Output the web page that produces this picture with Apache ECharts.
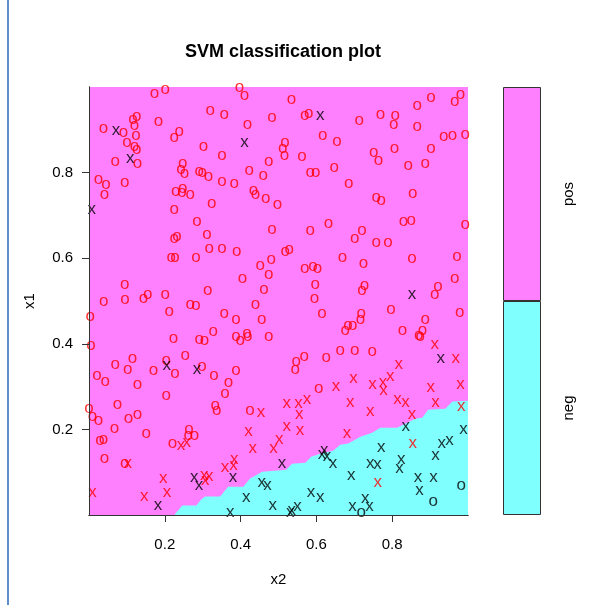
<!DOCTYPE html>
<html>
<head>
<meta charset="utf-8">
<script src="https://cdn.jsdelivr.net/npm/echarts@6/dist/echarts.min.js"></script>
<style>
  html, body { margin: 0; padding: 0; background: #ffffff; }
  #chart { width: 606px; height: 605px; }
</style>
</head>
<body>
<div id="chart"></div>
<script>
// Training points, [x2, x1]; "o" = ordinary point, "x" = support vector.
// Red = class "pos", black = class "neg".
const posPoints = [
  [0.173,0.983],[0.201,0.993],[0.320,0.943],[0.116,0.923],[0.126,0.929],[0.183,0.918],[0.120,0.908],[0.038,0.902],
  [0.091,0.892],[0.124,0.884],[0.238,0.894],[0.225,0.879],[0.100,0.869],[0.302,0.860],[0.120,0.859],[0.126,0.852],
  [0.069,0.823],[0.128,0.820],[0.247,0.820],[0.243,0.806],[0.252,0.797],[0.291,0.801],[0.299,0.799],[0.315,0.790],
  [0.025,0.781],[0.045,0.771],[0.094,0.775],[0.041,0.748],[0.247,0.762],[0.229,0.754],[0.245,0.752],[0.267,0.746],
  [0.225,0.711],[0.324,0.725],[0.285,0.684],
  [0.397,0.996],[0.410,0.978],[0.534,0.970],[0.357,0.935],[0.483,0.927],[0.569,0.931],[0.580,0.937],[0.418,0.910],
  [0.617,0.884],[0.654,0.871],[0.517,0.869],[0.511,0.855],[0.516,0.838],[0.562,0.835],[0.351,0.839],[0.474,0.823],
  [0.423,0.802],[0.460,0.792],[0.584,0.799],[0.598,0.799],[0.647,0.810],[0.351,0.777],[0.383,0.773],[0.434,0.757],
  [0.439,0.746],[0.466,0.738],[0.497,0.723],[0.632,0.680],
  [0.902,0.974],[0.980,0.980],[0.965,0.965],[0.866,0.954],[0.769,0.935],[0.808,0.931],[0.804,0.910],[0.713,0.919],
  [0.866,0.905],[0.936,0.882],[0.959,0.884],[0.993,0.886],[0.751,0.845],[0.764,0.826],[0.806,0.855],[0.902,0.855],
  [0.842,0.814],[0.887,0.820],[0.685,0.773],[0.758,0.739],[0.771,0.734],[0.854,0.750],[0.830,0.683],[0.850,0.686],
  [0.993,0.678],
  [0.232,0.649],[0.225,0.643],[0.311,0.653],[0.317,0.621],[0.217,0.599],[0.227,0.599],[0.282,0.600],[0.094,0.536],
  [0.039,0.497],[0.095,0.501],[0.144,0.504],[0.155,0.513],[0.201,0.513],[0.313,0.522],[0.267,0.491],[0.282,0.487],
  [0.212,0.474],[0.003,0.462],[0.328,0.426],[0.223,0.411],[0.291,0.408],[0.305,0.405],[0.005,0.395],[0.254,0.370],
  [0.115,0.363],[0.069,0.349],[0.204,0.359],[0.298,0.345],[0.102,0.339],[0.170,0.335],
  [0.483,0.665],[0.584,0.662],[0.351,0.621],[0.390,0.613],[0.518,0.613],[0.528,0.619],[0.481,0.596],[0.452,0.582],
  [0.474,0.560],[0.569,0.575],[0.591,0.578],[0.603,0.575],[0.405,0.551],[0.597,0.536],[0.462,0.525],[0.595,0.504],
  [0.439,0.491],[0.357,0.469],[0.615,0.469],[0.388,0.455],[0.456,0.455],[0.388,0.416],[0.417,0.423],[0.419,0.414],
  [0.399,0.405],[0.474,0.415],[0.663,0.382],[0.568,0.368],[0.547,0.356],[0.544,0.338],[0.626,0.365],[0.388,0.335],
  [0.720,0.662],[0.701,0.645],[0.758,0.634],[0.789,0.634],[0.669,0.600],[0.724,0.585],[0.852,0.598],[0.971,0.603],
  [0.965,0.550],[0.727,0.534],[0.720,0.522],[0.921,0.532],[0.912,0.513],[0.797,0.478],[0.978,0.472],[0.718,0.468],
  [0.716,0.454],[0.887,0.455],[0.683,0.442],[0.696,0.440],[0.676,0.429],[0.827,0.430],[0.880,0.429],[0.870,0.417],
  [0.874,0.415],[0.701,0.382],[0.747,0.380],
  [0.021,0.324],[0.043,0.310],[0.227,0.328],[0.128,0.304],[0.204,0.277],[0.075,0.256],[0.000,0.248],[0.009,0.228],
  [0.025,0.219],[0.104,0.224],[0.128,0.234],[0.067,0.201],[0.151,0.188],[0.264,0.197],[0.262,0.185],[0.278,0.184],
  [0.220,0.164],[0.029,0.172],[0.038,0.174],[0.041,0.131],[0.094,0.119],
  [0.330,0.324],[0.368,0.308],[0.359,0.281],[0.333,0.255],[0.337,0.242],[0.425,0.242],[0.606,0.294]
];

const posSupport = [
  [0.912,0.396],[0.968,0.363],[0.817,0.349],
  [0.243,0.160],[0.258,0.168],[0.102,0.119],[0.196,0.084],[0.304,0.090],[0.307,0.079],[0.317,0.089],[0.009,0.050],
  [0.146,0.041],[0.206,0.050],
  [0.454,0.238],[0.652,0.299],[0.522,0.258],[0.553,0.258],[0.575,0.267],[0.555,0.234],[0.421,0.193],[0.522,0.206],
  [0.557,0.195],[0.502,0.174],[0.487,0.154],[0.432,0.154],[0.383,0.128],[0.381,0.114],[0.359,0.110],
  [0.698,0.318],[0.748,0.302],[0.776,0.307],[0.777,0.289],[0.795,0.322],[0.902,0.297],[0.980,0.304],[0.689,0.260],
  [0.814,0.268],[0.835,0.262],[0.914,0.260],[0.742,0.241],[0.852,0.234],[0.982,0.251],[0.681,0.189],[0.854,0.164],
  [0.762,0.075]
];

const negSupport = [
  [0.071,0.896],[0.109,0.832],[0.007,0.713],[0.610,0.931],[0.410,0.868],[0.205,0.347],[0.285,0.337],[0.852,0.513],
  [0.928,0.363],
  [0.278,0.086],[0.290,0.067],[0.182,0.020],
  [0.621,0.149],[0.615,0.139],[0.628,0.135],[0.644,0.118],[0.509,0.118],[0.380,0.085],[0.456,0.075],[0.471,0.067],
  [0.415,0.038],[0.586,0.051],[0.610,0.040],[0.485,0.020],[0.535,0.008],[0.550,0.019],[0.531,0.003],[0.373,0.003],
  [0.836,0.206],[0.988,0.199],[0.771,0.155],[0.931,0.164],[0.951,0.172],[0.914,0.137],[0.742,0.118],[0.761,0.115],
  [0.824,0.127],[0.819,0.106],[0.692,0.090],[0.868,0.086],[0.909,0.086],[0.872,0.055],[0.729,0.036],[0.695,0.019],
  [0.740,0.019]
];

const negPoints = [[0.982,0.067],[0.908,0.030],[0.718,0.003]];

// Upper edge of the region predicted as "neg", [x2, x1]
const negRegionEdge = [
  [0.225,0.000],[0.246,0.022],[0.283,0.022],[0.296,0.036],[0.306,0.043],[0.346,0.043],[0.367,0.066],[0.407,0.066],
  [0.425,0.085],[0.457,0.101],[0.520,0.106],[0.536,0.120],[0.571,0.122],[0.586,0.136],[0.610,0.143],[0.644,0.150],
  [0.663,0.164],[0.684,0.167],[0.716,0.183],[0.747,0.192],[0.769,0.204],[0.813,0.204],[0.861,0.225],[0.879,0.227],
  [0.895,0.246],[0.940,0.248],[0.959,0.265],[1.000,0.267]
];

const tickValues = [0.2, 0.4, 0.6, 0.8];
const classNames = ['neg', 'pos'];
const classColors = ['#80FFFF', '#FF80FF'];

const FONT = '"Liberation Sans", Arial, sans-serif';
const INK = '#333333';

function glyphSeries(name, data, glyph, color) {
  return {
    type: 'scatter', name: name, xAxisIndex: 0, yAxisIndex: 0, data: data,
    symbol: 'circle', symbolSize: 1, itemStyle: { color: 'rgba(0,0,0,0)' },
    silent: true, z: 5, clip: true,
    label: { show: true, position: 'inside', formatter: glyph, color: color,
             fontFamily: FONT, fontSize: 17, offset: [0, -1] }
  };
}

const chart = echarts.init(document.getElementById('chart'), null, { renderer: 'canvas' });

chart.setOption({
  animation: false,
  backgroundColor: '#ffffff',
  title: {
    text: 'SVM classification plot',
    left: 278, top: 38, textAlign: 'center',
    textStyle: { fontFamily: FONT, fontSize: 18, fontWeight: 'bold', color: '#000' }
  },
  graphic: [
    { type: 'rect', left: 7, top: 0, shape: { width: 2, height: 605 }, style: { fill: '#5F8DC8' } }
  ],
  grid: [
    { left: 89, top: 87, width: 379, height: 428, show: true, backgroundColor: classColors[1], borderWidth: 0 },
    { left: 503, top: 87, width: 38, height: 428, show: false }
  ],
  xAxis: [
    {
      gridIndex: 0, type: 'value', min: 0, max: 1, position: 'bottom', z: 10,
      name: 'x2', nameLocation: 'middle', nameGap: 57,
      nameTextStyle: { fontFamily: FONT, fontSize: 15, color: '#000' },
      axisLine: { show: true, lineStyle: { color: INK, width: 1 } },
      axisTick: { show: true, customValues: tickValues, length: 7, lineStyle: { color: INK } },
      axisLabel: { customValues: tickValues, margin: 22, fontFamily: FONT, fontSize: 15, color: '#000',
                   formatter: v => v.toFixed(1) },
      splitLine: { show: false }
    },
    {
      gridIndex: 0, type: 'value', min: 0, max: 1, position: 'top', z: 10,
      axisLine: { show: true, lineStyle: { color: INK, width: 1 } },
      axisTick: { show: false }, axisLabel: { show: false }, splitLine: { show: false }
    },
    { gridIndex: 1, type: 'value', min: 0, max: 1, show: false }
  ],
  yAxis: [
    {
      gridIndex: 0, type: 'value', min: 0, max: 1, position: 'left', z: 10,
      name: 'x1', nameLocation: 'middle', nameGap: 52, nameRotate: 90,
      nameTextStyle: { fontFamily: FONT, fontSize: 15, color: '#000' },
      axisLine: { show: true, lineStyle: { color: INK, width: 1 } },
      axisTick: { show: true, customValues: tickValues, length: 7, lineStyle: { color: INK } },
      axisLabel: { customValues: tickValues, margin: 16, fontFamily: FONT, fontSize: 15, color: '#000',
                   formatter: v => v.toFixed(1) },
      splitLine: { show: false }
    },
    {
      gridIndex: 0, type: 'value', min: 0, max: 1, position: 'right', z: 10,
      axisLine: { show: true, lineStyle: { color: INK, width: 1 } },
      axisTick: { show: false }, axisLabel: { show: false }, splitLine: { show: false }
    },
    {
      gridIndex: 1, type: 'category', data: classNames, position: 'right',
      axisLine: { show: false },
      axisTick: { show: true, alignWithLabel: true, length: 9, lineStyle: { color: INK } },
      axisLabel: { rotate: 90, margin: 20, fontFamily: FONT, fontSize: 15, color: '#000' },
      splitLine: { show: false }
    }
  ],
  series: [
    {
      type: 'line', name: 'neg region', xAxisIndex: 0, yAxisIndex: 0, data: negRegionEdge,
      symbol: 'none', silent: true, z: 1,
      lineStyle: { width: 0, color: classColors[0] },
      areaStyle: { color: classColors[0], opacity: 1, origin: 'start' }
    },
    glyphSeries('pos', posPoints, 'o', '#FF0000'),
    glyphSeries('pos SV', posSupport, 'x', '#FF0000'),
    glyphSeries('neg SV', negSupport, 'x', '#000000'),
    glyphSeries('neg', negPoints, 'o', '#000000'),
    {
      type: 'bar', name: 'key', xAxisIndex: 2, yAxisIndex: 2, barWidth: '100%', silent: true,
      data: classNames.map((c, i) => ({ value: 1, itemStyle: { color: classColors[i] } })),
      itemStyle: { borderColor: INK, borderWidth: 1 }
    }
  ]
});
</script>
</body>
</html>
